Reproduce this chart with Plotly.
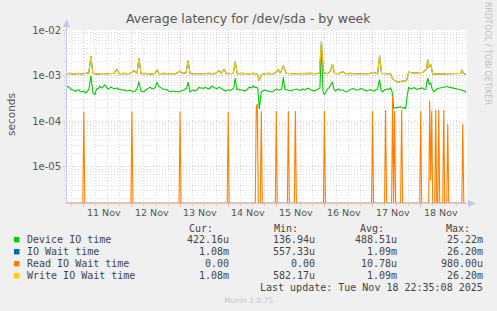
import plotly.graph_objects as go

# ---------------- data ----------------
device_times = [
    "2025-11-10 15:00", "2025-11-10 16:00", "2025-11-10 17:00", "2025-11-10 17:45", "2025-11-10 18:30", "2025-11-10 19:15",
    "2025-11-10 20:00", "2025-11-10 20:45", "2025-11-10 21:30", "2025-11-10 22:15", "2025-11-10 23:00",
    "2025-11-11 00:00", "2025-11-11 01:00", "2025-11-11 01:45", "2025-11-11 02:30", "2025-11-11 03:30", "2025-11-11 04:30",
    "2025-11-11 05:00", "2025-11-11 05:30", "2025-11-11 06:00", "2025-11-11 06:30", "2025-11-11 07:15", "2025-11-11 08:00",
    "2025-11-11 08:30", "2025-11-11 09:00", "2025-11-11 09:45", "2025-11-11 10:30", "2025-11-11 11:15", "2025-11-11 12:00",
    "2025-11-11 12:45", "2025-11-11 13:30", "2025-11-11 14:15", "2025-11-11 15:00", "2025-11-11 15:45", "2025-11-11 16:30",
    "2025-11-11 17:15", "2025-11-11 18:00", "2025-11-11 19:00", "2025-11-11 20:00", "2025-11-11 21:00", "2025-11-11 22:00",
    "2025-11-11 22:45", "2025-11-11 23:30",
    "2025-11-12 00:15", "2025-11-12 01:00", "2025-11-12 01:45", "2025-11-12 02:30", "2025-11-12 03:30", "2025-11-12 04:30",
    "2025-11-12 05:15", "2025-11-12 06:00", "2025-11-12 06:45", "2025-11-12 07:30", "2025-11-12 08:15", "2025-11-12 09:00",
    "2025-11-12 09:45", "2025-11-12 10:30", "2025-11-12 11:30", "2025-11-12 12:30", "2025-11-12 13:15", "2025-11-12 14:00",
    "2025-11-12 14:45", "2025-11-12 15:30", "2025-11-12 16:30", "2025-11-12 17:30", "2025-11-12 18:15", "2025-11-12 19:00",
    "2025-11-12 20:00", "2025-11-12 21:00", "2025-11-12 22:00", "2025-11-12 23:00",
    "2025-11-13 00:00", "2025-11-13 01:00", "2025-11-13 01:45", "2025-11-13 02:30", "2025-11-13 03:15", "2025-11-13 04:00",
    "2025-11-13 05:00", "2025-11-13 05:45", "2025-11-13 06:30", "2025-11-13 07:15", "2025-11-13 08:00", "2025-11-13 08:45",
    "2025-11-13 09:30", "2025-11-13 10:15", "2025-11-13 11:00", "2025-11-13 11:45", "2025-11-13 12:30", "2025-11-13 13:30",
    "2025-11-13 14:30", "2025-11-13 15:15", "2025-11-13 16:00", "2025-11-13 16:45", "2025-11-13 17:30", "2025-11-13 18:30",
    "2025-11-13 19:30", "2025-11-13 20:15", "2025-11-13 21:00", "2025-11-13 21:45", "2025-11-13 22:30", "2025-11-13 23:15",
    "2025-11-14 00:00", "2025-11-14 01:00", "2025-11-14 02:00", "2025-11-14 02:45", "2025-11-14 03:30", "2025-11-14 04:15",
    "2025-11-14 05:00", "2025-11-14 05:45", "2025-11-14 06:30", "2025-11-14 07:30", "2025-11-14 08:30", "2025-11-14 09:30",
    "2025-11-14 10:30", "2025-11-14 11:30", "2025-11-14 12:30", "2025-11-14 13:15", "2025-11-14 14:00", "2025-11-14 14:45",
    "2025-11-14 15:30", "2025-11-14 16:30", "2025-11-14 17:15", "2025-11-14 18:00", "2025-11-14 19:00", "2025-11-14 20:00",
    "2025-11-14 21:00", "2025-11-14 22:00", "2025-11-14 23:00",
    "2025-11-15 00:00", "2025-11-15 01:00", "2025-11-15 02:00", "2025-11-15 02:45", "2025-11-15 03:30", "2025-11-15 04:15",
    "2025-11-15 05:00", "2025-11-15 06:00", "2025-11-15 07:00", "2025-11-15 08:00", "2025-11-15 09:00", "2025-11-15 10:00",
    "2025-11-15 11:00", "2025-11-15 12:00", "2025-11-15 13:00", "2025-11-15 14:00", "2025-11-15 15:00", "2025-11-15 16:00",
    "2025-11-15 17:00", "2025-11-15 18:00", "2025-11-15 19:00", "2025-11-15 20:00", "2025-11-15 21:00", "2025-11-15 21:45",
    "2025-11-15 22:30", "2025-11-15 23:15",
    "2025-11-16 00:00", "2025-11-16 00:45", "2025-11-16 01:30", "2025-11-16 02:15", "2025-11-16 03:00", "2025-11-16 04:00",
    "2025-11-16 04:45", "2025-11-16 05:30", "2025-11-16 06:15", "2025-11-16 07:00", "2025-11-16 08:00", "2025-11-16 09:00",
    "2025-11-16 10:00", "2025-11-16 11:00", "2025-11-16 12:00", "2025-11-16 13:00", "2025-11-16 14:00", "2025-11-16 15:00",
    "2025-11-16 16:00", "2025-11-16 17:00", "2025-11-16 18:00", "2025-11-16 19:00", "2025-11-16 20:00", "2025-11-16 21:00",
    "2025-11-16 22:00", "2025-11-16 23:00",
    "2025-11-17 00:00", "2025-11-17 01:00", "2025-11-17 01:45", "2025-11-17 02:30", "2025-11-17 03:30", "2025-11-17 04:15",
    "2025-11-17 05:00", "2025-11-17 06:00", "2025-11-17 07:00", "2025-11-17 08:00", "2025-11-17 09:00", "2025-11-17 09:45",
    "2025-11-17 10:30", "2025-11-17 11:30", "2025-11-17 12:30", "2025-11-17 13:15", "2025-11-17 14:00", "2025-11-17 14:45",
    "2025-11-17 15:30", "2025-11-17 16:00", "2025-11-17 16:30", "2025-11-17 17:15", "2025-11-17 18:00", "2025-11-17 18:45",
    "2025-11-17 19:30", "2025-11-17 20:15", "2025-11-17 21:00", "2025-11-17 22:00", "2025-11-17 23:00",
    "2025-11-18 00:00", "2025-11-18 01:00", "2025-11-18 01:45", "2025-11-18 02:30", "2025-11-18 03:30", "2025-11-18 04:15",
    "2025-11-18 05:00", "2025-11-18 05:45", "2025-11-18 06:30", "2025-11-18 07:15", "2025-11-18 08:00", "2025-11-18 09:00",
    "2025-11-18 10:00", "2025-11-18 11:00", "2025-11-18 12:00", "2025-11-18 13:00", "2025-11-18 14:00", "2025-11-18 15:00",
    "2025-11-18 16:00", "2025-11-18 17:00", "2025-11-18 18:00", "2025-11-18 19:00", "2025-11-18 20:00", "2025-11-18 21:00",
    "2025-11-18 22:00", "2025-11-18 22:30",
]
device_vals = [
    5.6e-4, 5.8e-4, 5.4e-4, 5.0e-4, 4.9e-4, 4.6e-4,
    4.5e-4, 4.8e-4, 4.9e-4, 4.5e-4, 4.4e-4,
    4.6e-4, 4.2e-4, 4.6e-4, 4.9e-4, 1.0e-3, 4.3e-4,
    4.0e-4, 3.8e-4, 4.6e-4, 5.1e-4, 5.3e-4, 5.9e-4,
    5.5e-4, 5.4e-4, 5.8e-4, 6.3e-4, 5.6e-4, 5.1e-4,
    5.3e-4, 5.6e-4, 5.4e-4, 5.1e-4, 5.2e-4, 5.4e-4,
    5.0e-4, 5.1e-4, 4.8e-4, 4.9e-4, 4.7e-4, 4.6e-4,
    4.8e-4, 4.6e-4,
    4.5e-4, 4.4e-4, 4.7e-4, 5.1e-4, 7.4e-4, 4.6e-4,
    4.5e-4, 4.4e-4, 4.8e-4, 5.1e-4, 5.3e-4, 5.6e-4,
    5.2e-4, 5.1e-4, 5.4e-4, 7.2e-4, 5.8e-4, 5.6e-4,
    5.2e-4, 5.1e-4, 5.0e-4, 4.9e-4, 4.6e-4, 4.4e-4,
    4.6e-4, 4.6e-4, 4.5e-4, 4.4e-4,
    4.5e-4, 4.6e-4, 4.8e-4, 5.1e-4, 5.3e-4, 7.2e-4,
    4.4e-4, 4.7e-4, 4.9e-4, 4.6e-4, 4.7e-4, 5.1e-4,
    5.6e-4, 5.3e-4, 5.4e-4, 5.2e-4, 5.6e-4, 5.3e-4,
    5.1e-4, 5.5e-4, 5.9e-4, 5.5e-4, 5.4e-4, 5.2e-4,
    5.6e-4, 5.3e-4, 5.1e-4, 4.8e-4, 4.6e-4, 4.8e-4,
    4.9e-4, 4.7e-4, 5.1e-4, 5.3e-4, 8.8e-4, 5.0e-4,
    5.1e-4, 4.8e-4, 4.9e-4, 4.7e-4, 4.6e-4, 5.0e-4,
    5.6e-4, 5.4e-4, 5.9e-4, 5.5e-4, 5.6e-4, 5.3e-4,
    1.87e-4, 4.4e-4, 4.7e-4, 4.9e-4, 4.7e-4, 4.6e-4,
    4.5e-4, 4.4e-4, 4.7e-4,
    5.1e-4, 4.8e-4, 4.9e-4, 5.2e-4, 9.2e-4, 5.0e-4,
    4.9e-4, 4.7e-4, 4.6e-4, 4.8e-4, 4.9e-4, 5.1e-4,
    4.9e-4, 4.7e-4, 5.1e-4, 4.9e-4, 5.1e-4, 5.3e-4,
    4.9e-4, 4.7e-4, 4.6e-4, 4.9e-4, 5.1e-4, 5.3e-4,
    5.0e-3, 4.5e-4,
    3.8e-4, 4.6e-4, 5.1e-4, 5.4e-4, 6.0e-4, 7.2e-4,
    5.0e-4, 4.6e-4, 4.9e-4, 5.1e-4, 4.8e-4, 4.9e-4,
    4.6e-4, 4.4e-4, 4.7e-4, 4.9e-4, 5.2e-4, 5.1e-4,
    4.8e-4, 4.9e-4, 5.2e-4, 5.1e-4, 4.8e-4, 4.6e-4,
    4.8e-4, 4.9e-4,
    4.7e-4, 4.6e-4, 4.9e-4, 5.1e-4, 8.2e-4, 4.8e-4,
    4.4e-4, 4.9e-4, 5.1e-4, 5.0e-4, 5.4e-4, 4.5e-4,
    1.94e-4, 1.98e-4, 2.0e-4, 2.05e-4, 2.07e-4, 1.98e-4,
    1.95e-4, 2.02e-4, 1.87e-4, 3.5e-4, 5.6e-4, 5.2e-4,
    5.1e-4, 5.4e-4, 5.4e-4, 5.0e-4, 5.1e-4,
    5.3e-4, 5.4e-4, 5.0e-4, 5.1e-4, 8.8e-4, 6.5e-4,
    6.9e-4, 5.0e-4, 4.4e-4, 4.8e-4, 5.1e-4, 5.3e-4,
    5.4e-4, 5.7e-4, 5.6e-4, 5.8e-4, 5.6e-4, 5.5e-4,
    5.4e-4, 5.2e-4, 5.1e-4, 5.0e-4, 4.9e-4, 4.7e-4,
    4.6e-4, 4.22e-4,
]

write_times = [
    "2025-11-10 15:00", "2025-11-10 17:00", "2025-11-10 19:00", "2025-11-10 21:00", "2025-11-10 23:00",
    "2025-11-11 01:00", "2025-11-11 02:30", "2025-11-11 03:30", "2025-11-11 04:30", "2025-11-11 06:30", "2025-11-11 09:00",
    "2025-11-11 12:00", "2025-11-11 15:00", "2025-11-11 16:30", "2025-11-11 17:30", "2025-11-11 20:00", "2025-11-11 23:00",
    "2025-11-12 01:00", "2025-11-12 02:30", "2025-11-12 03:30", "2025-11-12 04:30", "2025-11-12 07:00", "2025-11-12 09:30",
    "2025-11-12 11:30", "2025-11-12 12:30", "2025-11-12 13:30", "2025-11-12 16:00", "2025-11-12 19:00", "2025-11-12 22:00",
    "2025-11-13 00:00", "2025-11-13 01:00", "2025-11-13 03:00", "2025-11-13 04:00", "2025-11-13 05:00", "2025-11-13 08:00",
    "2025-11-13 11:00", "2025-11-13 14:30", "2025-11-13 17:30", "2025-11-13 19:30", "2025-11-13 20:30", "2025-11-13 22:00",
    "2025-11-13 23:00",
    "2025-11-14 02:30", "2025-11-14 03:30", "2025-11-14 04:30", "2025-11-14 07:00", "2025-11-14 10:00", "2025-11-14 13:00",
    "2025-11-14 14:30", "2025-11-14 15:30", "2025-11-14 16:30", "2025-11-14 18:00", "2025-11-14 20:00", "2025-11-14 23:00",
    "2025-11-15 01:00", "2025-11-15 02:00", "2025-11-15 03:30", "2025-11-15 05:00", "2025-11-15 08:00", "2025-11-15 11:00",
    "2025-11-15 14:00", "2025-11-15 17:00", "2025-11-15 20:00", "2025-11-15 21:30", "2025-11-15 22:30", "2025-11-15 23:30",
    "2025-11-16 01:30", "2025-11-16 03:00", "2025-11-16 04:00", "2025-11-16 05:00", "2025-11-16 07:00", "2025-11-16 09:00",
    "2025-11-16 10:30", "2025-11-16 13:00", "2025-11-16 16:00", "2025-11-16 19:00", "2025-11-16 22:00",
    "2025-11-17 00:30", "2025-11-17 02:30", "2025-11-17 03:30", "2025-11-17 04:30", "2025-11-17 07:00", "2025-11-17 09:00",
    "2025-11-17 10:00", "2025-11-17 12:30", "2025-11-17 15:00", "2025-11-17 17:00", "2025-11-17 18:00", "2025-11-17 20:00",
    "2025-11-17 22:00",
    "2025-11-18 01:00", "2025-11-18 03:00", "2025-11-18 03:30", "2025-11-18 04:00", "2025-11-18 05:00", "2025-11-18 06:00",
    "2025-11-18 09:00", "2025-11-18 13:00", "2025-11-18 17:00", "2025-11-18 20:00", "2025-11-18 20:30", "2025-11-18 21:30",
    "2025-11-18 22:30",
]
write_vals = [
    1.10e-3, 1.12e-3, 1.08e-3, 1.12e-3, 1.09e-3,
    1.10e-3, 1.15e-3, 2.70e-3, 1.12e-3, 1.08e-3, 1.11e-3,
    1.10e-3, 1.12e-3, 1.40e-3, 1.10e-3, 1.12e-3, 1.10e-3,
    1.29e-3, 1.12e-3, 2.44e-3, 1.10e-3, 1.12e-3, 1.08e-3,
    1.12e-3, 1.35e-3, 1.10e-3, 1.12e-3, 1.10e-3, 1.11e-3,
    1.25e-3, 1.12e-3, 1.15e-3, 2.13e-3, 1.10e-3, 1.12e-3,
    1.10e-3, 1.12e-3, 1.10e-3, 1.29e-3, 1.12e-3, 1.40e-3,
    1.10e-3,
    1.12e-3, 2.03e-3, 1.10e-3, 1.12e-3, 1.10e-3, 1.12e-3,
    1.08e-3, 7.80e-4, 1.05e-3, 1.10e-3, 1.12e-3, 1.10e-3,
    1.35e-3, 1.12e-3, 1.65e-3, 1.12e-3, 1.10e-3, 1.12e-3,
    1.10e-3, 1.12e-3, 1.10e-3, 1.15e-3, 5.70e-3, 1.15e-3,
    1.10e-3, 1.25e-3, 1.80e-3, 1.12e-3, 1.10e-3, 1.22e-3,
    1.10e-3, 1.12e-3, 1.10e-3, 1.12e-3, 1.10e-3,
    1.18e-3, 1.10e-3, 2.74e-3, 1.12e-3, 1.10e-3, 1.10e-3,
    8.50e-4, 7.20e-4, 7.60e-4, 7.80e-4, 1.20e-3, 1.15e-3,
    1.15e-3,
    1.18e-3, 1.40e-3, 2.32e-3, 1.50e-3, 1.80e-3, 1.08e-3,
    1.08e-3, 1.12e-3, 1.10e-3, 1.12e-3, 1.35e-3, 1.10e-3,
    1.08e-3,
]

# IO wait time follows the write wait time almost exactly
io_wait_times = list(write_times)
io_wait_vals = list(write_vals)

read_times = [
    "2025-11-10 15:00", "2025-11-10 23:30", "2025-11-11 00:00", "2025-11-11 00:30",
    "2025-11-11 23:30", "2025-11-12 00:00", "2025-11-12 00:30",
    "2025-11-12 23:30", "2025-11-13 00:00", "2025-11-13 00:30",
    "2025-11-13 23:30", "2025-11-14 00:00", "2025-11-14 00:30",
    "2025-11-14 13:30", "2025-11-14 14:00", "2025-11-14 14:30", "2025-11-14 15:00",
    "2025-11-14 16:00", "2025-11-14 16:30", "2025-11-14 17:00",
    "2025-11-14 23:30", "2025-11-15 00:00", "2025-11-15 00:30",
    "2025-11-15 05:30", "2025-11-15 06:00", "2025-11-15 06:30",
    "2025-11-15 09:00", "2025-11-15 09:30", "2025-11-15 10:00",
    "2025-11-15 23:30", "2025-11-16 00:00", "2025-11-16 00:30",
    "2025-11-16 23:30", "2025-11-17 00:00", "2025-11-17 00:30",
    "2025-11-17 06:00", "2025-11-17 06:30", "2025-11-17 07:00",
    "2025-11-17 09:30", "2025-11-17 10:00", "2025-11-17 10:30", "2025-11-17 11:00", "2025-11-17 11:30",
    "2025-11-17 14:00", "2025-11-17 14:30", "2025-11-17 15:00",
    "2025-11-17 23:30", "2025-11-18 00:00", "2025-11-18 00:30",
    "2025-11-18 04:00", "2025-11-18 04:30", "2025-11-18 05:00", "2025-11-18 05:30", "2025-11-18 06:00",
    "2025-11-18 07:00", "2025-11-18 07:30", "2025-11-18 08:00",
    "2025-11-18 08:30", "2025-11-18 09:00", "2025-11-18 09:30",
    "2025-11-18 11:00", "2025-11-18 11:30", "2025-11-18 12:00",
    "2025-11-18 13:00", "2025-11-18 13:30", "2025-11-18 14:00",
    "2025-11-18 20:30", "2025-11-18 21:00", "2025-11-18 21:30", "2025-11-18 22:30",
]
read_vals = [
    0, 0, 1.62e-4, 0,
    0, 1.62e-4, 0,
    0, 1.62e-4, 0,
    0, 1.62e-4, 0,
    0, 2.0e-4, 2.4e-4, 0,
    0, 1.65e-4, 0,
    0, 1.68e-4, 0,
    0, 1.68e-4, 0,
    0, 1.68e-4, 0,
    0, 1.68e-4, 0,
    0, 1.68e-4, 0,
    0, 1.77e-4, 0,
    0, 3.6e-4, 0, 1.7e-4, 0,
    0, 1.77e-4, 0,
    0, 1.68e-4, 0,
    0, 2.8e-4, 5e-6, 1.7e-4, 0,
    0, 1.77e-4, 0,
    0, 1.77e-4, 0,
    0, 1.77e-4, 0,
    0, 8.7e-5, 0,
    0, 8.7e-5, 0, 0,
]

day_label_times = ["2025-11-11 10:00", "2025-11-12 10:00", "2025-11-13 10:00", "2025-11-14 10:00",
                   "2025-11-15 10:00", "2025-11-16 10:00", "2025-11-17 10:00", "2025-11-18 10:00"]
day_labels = ["11 Nov", "12 Nov", "13 Nov", "14 Nov", "15 Nov", "16 Nov", "17 Nov", "18 Nov"]

y_tick_vals = [1e-5, 1e-4, 1e-3, 1e-2]
y_tick_text = ["1e-05", "1e-04", "1e-03", "1e-02"]

legend_names = ["Device IO time", "IO Wait time", "Read IO Wait time", "Write IO Wait time"]
legend_colors = ["#00cc00", "#0066b3", "#ff8000", "#ffcc00"]
legend_cur = ["422.16u", "1.08m", "0.00", "1.08m"]
legend_min = ["136.94u", "557.33u", "0.00", "582.17u"]
legend_avg = ["488.51u", "1.09m", "10.78u", "1.09m"]
legend_max = ["25.22m", "26.20m", "980.00u", "26.20m"]

# ---------------- layout geometry ----------------
W, H = 497, 311
ML, MR, MT, MB = 66, 30, 30, 108
PW = W - ML - MR
PH = H - MT - MB
Y_LOG_MIN, Y_LOG_MAX = -5.79, -2.0
X_RANGE = ["2025-11-10 15:06", "2025-11-18 23:06"]


def px(x):
    return (x - ML) / PW


def py(y):
    return (H - MB - y) / PH


floor_val = 10 ** Y_LOG_MIN
read_plot = [v if v > 0 else floor_val for v in read_vals]

fig = go.Figure()
fig.add_trace(go.Scatter(x=device_times, y=device_vals, mode="lines",
                         line=dict(color=legend_colors[0], width=1.1), showlegend=False))
fig.add_trace(go.Scatter(x=io_wait_times, y=io_wait_vals, mode="lines",
                         line=dict(color=legend_colors[1], width=1.1), showlegend=False))
fig.add_trace(go.Scatter(x=read_times, y=read_plot, mode="lines",
                         line=dict(color=legend_colors[2], width=1.1), showlegend=False))
fig.add_trace(go.Scatter(x=write_times, y=write_vals, mode="lines",
                         line=dict(color=legend_colors[3], width=1.1), showlegend=False))

minor_y = [m * 10 ** e for e in range(-6, -2) for m in range(2, 10)]

grid_major = "rgba(235,140,140,0.6)"
grid_minor = "#dcdcdc"
axis_col = "#c4c8ee"
txt_col = "#555555"

fig.update_xaxes(
    type="date", range=X_RANGE,
    tickmode="linear", tick0="2025-11-11 00:00", dtick=86400000,
    showticklabels=False, showgrid=True, gridcolor=grid_major, griddash="1px,2px", gridwidth=1,
    ticks="outside", ticklen=3, tickcolor=grid_major, zeroline=False, showline=False,
    minor=dict(dtick=21600000, tick0="2025-11-11 00:00", showgrid=True, gridcolor=grid_minor,
               griddash="1px,2px", ticks="outside", ticklen=2, tickcolor="#d0d0d0"),
)
fig.update_yaxes(
    type="log", range=[Y_LOG_MIN, Y_LOG_MAX],
    tickmode="array", tickvals=y_tick_vals, ticktext=y_tick_text,
    tickfont=dict(family="DejaVu Sans", size=10, color=txt_col),
    showgrid=True, gridcolor=grid_major, griddash="1px,2px", gridwidth=1,
    ticks="outside", ticklen=2, tickcolor=grid_major, zeroline=False, showline=False,
    minor=dict(tickmode="array", tickvals=minor_y, showgrid=True, gridcolor=grid_minor,
               griddash="1px,2px", ticks="outside", ticklen=1, tickcolor="#d0d0d0"),
)

shapes = []
# axis lines with arrow heads
shapes.append(dict(type="line", xref="paper", yref="paper", x0=px(66.5), x1=px(66.5), y0=py(203.5), y1=py(24),
                   line=dict(color=axis_col, width=1), layer="above"))
shapes.append(dict(type="path", xref="paper", yref="paper",
                   path=f"M {px(66.5)},{py(19)} L {px(63)},{py(27)} L {px(70)},{py(27)} Z",
                   fillcolor=axis_col, line=dict(color=axis_col, width=0), layer="above"))
shapes.append(dict(type="line", xref="paper", yref="paper", x0=px(66), x1=px(471), y0=py(203.5), y1=py(203.5),
                   line=dict(color=axis_col, width=1), layer="below"))
shapes.append(dict(type="path", xref="paper", yref="paper",
                   path=f"M {px(476)},{py(203.5)} L {px(468)},{py(200)} L {px(468)},{py(207)} Z",
                   fillcolor=axis_col, line=dict(color=axis_col, width=0), layer="above"))

annotations = []
# title
annotations.append(dict(xref="paper", yref="paper", x=px(248), y=py(18.5), text="Average latency for /dev/sda - by week",
                        showarrow=False, xanchor="center", yanchor="middle",
                        font=dict(family="DejaVu Sans", size=12.5, color=txt_col)))
# y title
annotations.append(dict(xref="paper", yref="paper", x=px(11), y=py(115), text="seconds", textangle=-90,
                        showarrow=False, xanchor="center", yanchor="middle",
                        font=dict(family="DejaVu Sans", size=10.5, color=txt_col)))
# right watermark
annotations.append(dict(xref="paper", yref="paper", x=px(488), y=py(53), text="RRDTOOL / TOBI OETIKER", textangle=90,
                        showarrow=False, xanchor="center", yanchor="middle",
                        font=dict(family="DejaVu Sans", size=8, color="#c0c0c0")))
# day labels
for t, lab in zip(day_label_times, day_labels):
    annotations.append(dict(xref="x", yref="paper", x=t, y=py(212), text=lab, showarrow=False,
                            xanchor="center", yanchor="middle",
                            font=dict(family="DejaVu Sans", size=9.5, color=txt_col)))

mono = dict(family="DejaVu Sans Mono", size=10, color="#444444")
row_y = [239.7, 251.7, 263.7, 275.7]
for hdr, xr in zip(["Cur:", "Min:", "Avg:", "Max:"], [213.5, 299, 385, 470.5]):
    annotations.append(dict(xref="paper", yref="paper", x=px(xr), y=py(228.3), text=hdr, showarrow=False,
                            xanchor="right", yanchor="middle", font=mono, borderpad=0))
for i, name in enumerate(legend_names):
    yy = row_y[i]
    shapes.append(dict(type="rect", xref="paper", yref="paper", x0=px(14), x1=px(19.5),
                       y0=py(yy + 2.7), y1=py(yy - 2.7), fillcolor=legend_colors[i],
                       line=dict(width=0), layer="above"))
    annotations.append(dict(xref="paper", yref="paper", x=px(26), y=py(yy), text=name, showarrow=False,
                            xanchor="left", yanchor="middle", font=mono, borderpad=0))
    for val, xr in zip([legend_cur[i], legend_min[i], legend_avg[i], legend_max[i]], [229.5, 315.5, 397.5, 483.5]):
        annotations.append(dict(xref="paper", yref="paper", x=px(xr), y=py(yy), text=val, showarrow=False,
                                xanchor="right", yanchor="middle", font=mono, borderpad=0))
annotations.append(dict(xref="paper", yref="paper", x=px(483.5), y=py(287.3),
                        text="Last update: Tue Nov 18 22:35:08 2025", showarrow=False,
                        xanchor="right", yanchor="middle", font=mono, borderpad=0))
annotations.append(dict(xref="paper", yref="paper", x=px(248), y=py(300.5), text="Munin 2.0.75", showarrow=False,
                        xanchor="center", yanchor="middle",
                        font=dict(family="DejaVu Sans", size=7.5, color="#c4c4c4")))

fig.update_layout(
    width=W, height=H, autosize=False,
    margin=dict(l=ML, r=MR, t=MT, b=MB, pad=0),
    paper_bgcolor="#f0f0f0", plot_bgcolor="#ffffff",
    shapes=shapes, annotations=annotations, showlegend=False,
)

fig.write_html("out.html", config={"displayModeBar": False})
